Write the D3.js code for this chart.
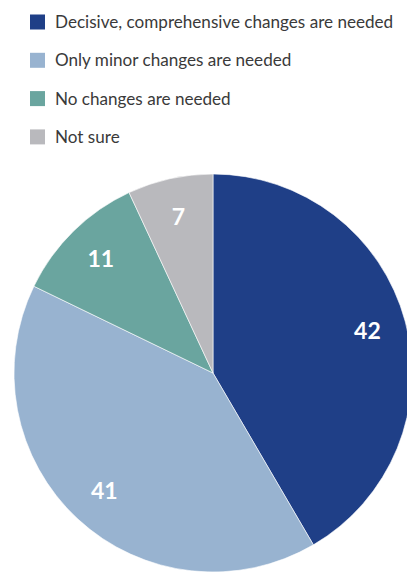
<!DOCTYPE html>
<html>
<head>
<meta charset="utf-8">
<script src="https://cdn.jsdelivr.net/npm/d3@7"></script>
<style>
  html, body { margin: 0; padding: 0; background: #fff; }
  svg { display: block; }
</style>
</head>
<body>
<svg id="chart" width="407" height="572"></svg>
<script>
// Survey responses (percent)
const categories = [
  "Decisive, comprehensive changes are needed",
  "Only minor changes are needed",
  "No changes are needed",
  "Not sure"
];
const values = [42, 41, 11, 7];
const colors = ["#1f3f87", "#98b3d0", "#6aa59f", "#b9b9bd"];

const svg = d3.select("#chart");
const font = "Lato, 'Open Sans', sans-serif";

// Legend
const legend = svg.append("g").attr("transform", "translate(30,22)");
const rows = legend.selectAll("g.row")
  .data(categories)
  .join("g")
  .attr("class", "row")
  .attr("transform", (d, i) => `translate(0,${i * 38.3})`);
rows.append("rect")
  .attr("x", 0).attr("y", -7.5)
  .attr("width", 15).attr("height", 15)
  .attr("fill", (d, i) => colors[i]);
rows.append("text")
  .attr("x", 25).attr("y", 0)
  .attr("dy", "0.36em")
  .attr("font-family", font)
  .attr("font-size", 17.1)
  .attr("fill", "#3a3a3a")
  .text(d => d);

// Pie
const radius = 199;
const cx = 213, cy = 373;
const pie = d3.pie().sort(null).value(d => d);
const arc = d3.arc().innerRadius(0).outerRadius(radius);
const labelArc = d3.arc().innerRadius(160).outerRadius(160);

const g = svg.append("g").attr("transform", `translate(${cx},${cy})`);
const slices = pie(values);

g.selectAll("path")
  .data(slices)
  .join("path")
  .attr("d", arc)
  .attr("fill", (d, i) => colors[i])
  .attr("stroke", "#ffffff")
  .attr("stroke-width", 0.6);

g.selectAll("text")
  .data(slices)
  .join("text")
  .attr("transform", d => `translate(${labelArc.centroid(d)})`)
  .attr("text-anchor", "middle")
  .attr("dy", "0.36em")
  .attr("font-family", font)
  .attr("font-size", 23)
  .attr("font-weight", 700)
  .attr("fill", "#ffffff")
  .text(d => d.data);
</script>
</body>
</html>
